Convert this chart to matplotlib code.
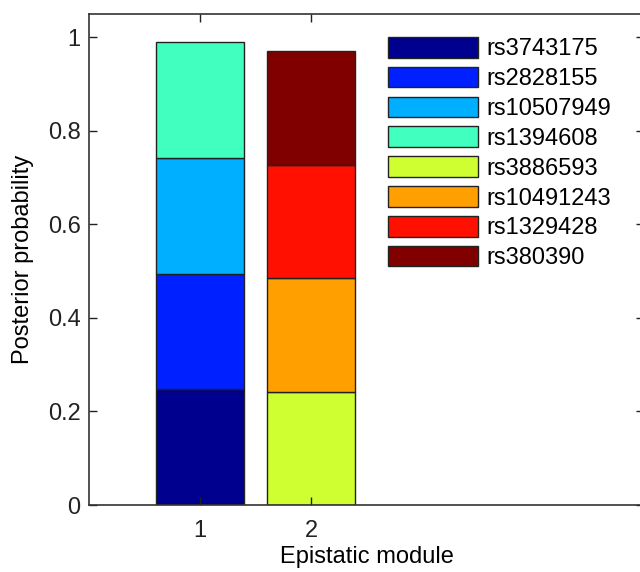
import numpy as np
import matplotlib
matplotlib.use("Agg")
import matplotlib.pyplot as plt

plt.rcParams['font.family'] = ['Liberation Sans', 'DejaVu Sans']

# data
modules = [1, 2]
snps = ['rs3743175', 'rs2828155', 'rs10507949', 'rs1394608',
        'rs3886593', 'rs10491243', 'rs1329428', 'rs380390']
# posterior probability of each SNP in module 1 and module 2
probs = [
    [0.2475, 0.0],
    [0.2475, 0.0],
    [0.2475, 0.0],
    [0.2475, 0.0],
    [0.0, 0.2425],
    [0.0, 0.2425],
    [0.0, 0.2425],
    [0.0, 0.2425],
]
colors = ['#00008F', '#0020FF', '#00AFFF', '#40FFBF',
          '#CFFF30', '#FF9F00', '#FF1000', '#800000']

fs = 17

fig = plt.figure(figsize=(6.4, 5.72), dpi=100)
ax = fig.add_axes([89/640, 67/572, 555/640, 491/572])

bottom = np.zeros(len(modules))
for i in range(len(snps)):
    vals = np.array(probs[i])
    mask = vals > 0
    ax.bar(np.array(modules)[mask], vals[mask], width=0.8, bottom=bottom[mask],
           color=colors[i], edgecolor='#222222', linewidth=1.0, label=snps[i])
    bottom += vals

ax.set_xlim(0, 5)
ax.set_ylim(0, 1.05)
ax.set_xticks(modules)
ax.set_xticklabels(['1', '2'])
ax.set_yticks([0, 0.2, 0.4, 0.6, 0.8, 1.0])
ax.set_yticklabels(['0', '0.2', '0.4', '0.6', '0.8', '1'])
ax.tick_params(direction='in', top=True, right=True, length=6, width=1,
               labelsize=fs, colors='#222222')
ax.tick_params(axis='x', pad=11)
ax.tick_params(axis='y', pad=6)
for s in ax.spines.values():
    s.set_linewidth(1.2)
    s.set_color('#333333')

ax.set_xlabel('Epistatic module', fontsize=fs, labelpad=3)
ax.set_ylabel('Posterior probability', fontsize=fs, labelpad=10)

ax.legend(loc='upper left', bbox_to_anchor=(388/640, 1 - 37/572),
          bbox_transform=fig.transFigure, frameon=False, fontsize=fs,
          handlelength=3.8, handleheight=0.97, labelspacing=0.27,
          handletextpad=0.38, borderpad=0, borderaxespad=0)

fig.savefig('out.png', dpi=100)
